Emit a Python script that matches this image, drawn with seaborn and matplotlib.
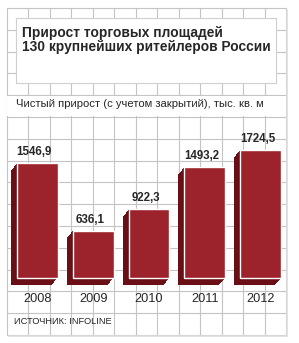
import numpy as np
import seaborn as sns
from matplotlib import pyplot as plt
from matplotlib import patheffects as pe
from matplotlib import font_manager as fm
from matplotlib.patches import Rectangle

years = ['2008', '2009', '2010', '2011', '2012']
values = [1546.9, 636.1, 922.3, 1493.2, 1724.5]
title = 'Прирост торговых площадей\n130 крупнейших ритейлеров России'
subtitle = 'Чистый прирост (с учетом закрытий), тыс. кв. м'
source = 'ИСТОЧНИК: INFOLINE'

front = '#9c232b'
side = '#6a0f15'
grid_col = '#c4c4c4'

sns.set_style('white')
installed = {f.name for f in fm.fontManager.ttflist}
narrow = 'Liberation Sans Narrow' if 'Liberation Sans Narrow' in installed else 'Liberation Sans'
plt.rcParams['font.family'] = ['Liberation Sans', 'DejaVu Sans']

fig = plt.figure(figsize=(2.99, 3.43), dpi=100)

# background: grid paper in pixel coordinates
bg = fig.add_axes([0, 0, 1, 1])
bg.set_xlim(0, 299)
bg.set_ylim(343, 0)
bg.axis('off')
xs = np.linspace(6.7, 286, 14)
ys = np.linspace(8, 335, 16)
for x in xs:
    bg.plot([x, x], [ys[0], ys[-1]], color=grid_col, lw=0.8)
for y in ys:
    bg.plot([xs[0], xs[-1]], [y, y], color=grid_col, lw=0.8)
# soft shadow on right / bottom of the frame
bg.plot([xs[-1] + 1.2, xs[-1] + 1.2], [ys[0] + 2, ys[-1] + 1.2], color='#dddddd', lw=1.2)
bg.plot([xs[0] + 2, xs[-1] + 1.2], [ys[-1] + 1.2, ys[-1] + 1.2], color='#dddddd', lw=1.2)

# title box and subtitle strip
bg.add_patch(Rectangle((16, 18), 260, 65, facecolor='white', edgecolor='#cfcfcf', lw=0.8, zorder=3))
bg.add_patch(Rectangle((xs[0] + 0.5, 96), xs[-1] - xs[0] - 1, 20, facecolor='white', lw=0, zorder=3))
bg.text(22.5, 26.5, title, fontsize=9.9, fontweight='bold', va='top', ha='left',
        linespacing=0.92, zorder=4)
bg.text(16, 104, subtitle, fontsize=8.1, family=narrow, va='center', ha='left', zorder=4)
bg.text(14, 322, source, fontsize=6.7, family=narrow, va='center', ha='left', zorder=4)

# bars
ax = fig.add_axes([9.6 / 299, 65 / 343, 278.8 / 299, 148.6 / 343])
ax.patch.set_alpha(0)
sns.barplot(x=years, y=values, color=front, saturation=1, width=0.735, ax=ax)
ax.set_ylim(0, 2000)
ax.set_xlim(-0.5, 4.5)

depth = [pe.SimplePatchShadow(offset=(-4.3 * k / 12, -5.0 * k / 12),
                              shadow_rgbFace=side, alpha=1) for k in range(12, 0, -1)]
for p in ax.patches:
    p.set_clip_on(False)
    p.set_path_effects(depth + [pe.Normal()])

for i, v in enumerate(values):
    ax.annotate(f'{v:.1f}'.replace('.', ','), (i, v), xytext=(-2.2, 5.8),
                textcoords='offset points', ha='center', va='baseline',
                fontsize=8.3, fontweight='bold')

sns.despine(ax=ax, left=True, bottom=True)
ax.set_yticks([])
ax.tick_params(axis='x', length=0, pad=10.5, labelsize=9.2)
for t in ax.get_xticklabels():
    t.set_family(narrow)
ax.set_xlabel('')
ax.set_ylabel('')

fig.savefig('out.png', dpi=100)
